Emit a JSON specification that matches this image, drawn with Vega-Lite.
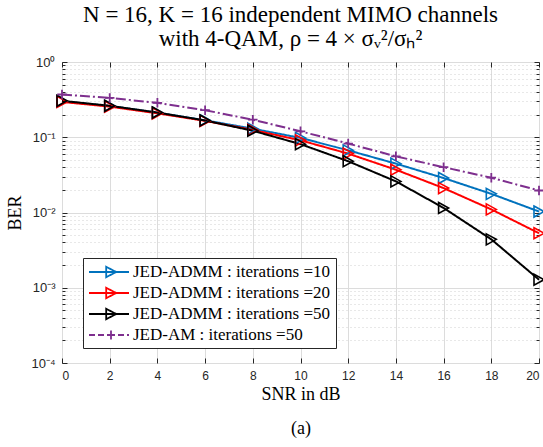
{
  "$schema": "https://vega.github.io/schema/vega-lite/v6.json",
  "autosize": {"type": "none"},
  "width": 477,
  "height": 301,
  "padding": {"left": 62, "top": 62, "right": 4, "bottom": 84},
  "background": "white",
  "config": {
    "view": {"stroke": "#262626", "strokeWidth": 1},
    "axis": {
      "labelFont": "Liberation Sans",
      "labelFontSize": 12,
      "labelColor": "#262626",
      "titleFont": "Liberation Serif",
      "titleFontWeight": "normal",
      "titleColor": "#000000",
      "tickColor": "#262626",
      "domain": false
    }
  },
  "title": {
    "text": ["N = 16, K = 16 independent MIMO channels", "with 4-QAM, ρ = 4 × σᵥ²/σₕ²"],
    "font": "Liberation Serif",
    "fontSize": 23,
    "fontWeight": "normal",
    "color": "#000000",
    "lineHeight": 24,
    "anchor": "middle",
    "dx": -10,
    "offset": 5
  },
  "data": {
    "values": [
      {"snr": 0, "ber": 0.30, "series": "JED-ADMM : iterations =10"},
      {"snr": 2, "ber": 0.26, "series": "JED-ADMM : iterations =10"},
      {"snr": 4, "ber": 0.212, "series": "JED-ADMM : iterations =10"},
      {"snr": 6, "ber": 0.168, "series": "JED-ADMM : iterations =10"},
      {"snr": 8, "ber": 0.13, "series": "JED-ADMM : iterations =10"},
      {"snr": 10, "ber": 0.098, "series": "JED-ADMM : iterations =10"},
      {"snr": 12, "ber": 0.067, "series": "JED-ADMM : iterations =10"},
      {"snr": 14, "ber": 0.0446, "series": "JED-ADMM : iterations =10"},
      {"snr": 16, "ber": 0.0287, "series": "JED-ADMM : iterations =10"},
      {"snr": 18, "ber": 0.0177, "series": "JED-ADMM : iterations =10"},
      {"snr": 20, "ber": 0.0103, "series": "JED-ADMM : iterations =10"},
      {"snr": 0, "ber": 0.295, "series": "JED-ADMM : iterations =20"},
      {"snr": 2, "ber": 0.255, "series": "JED-ADMM : iterations =20"},
      {"snr": 4, "ber": 0.208, "series": "JED-ADMM : iterations =20"},
      {"snr": 6, "ber": 0.165, "series": "JED-ADMM : iterations =20"},
      {"snr": 8, "ber": 0.125, "series": "JED-ADMM : iterations =20"},
      {"snr": 10, "ber": 0.091, "series": "JED-ADMM : iterations =20"},
      {"snr": 12, "ber": 0.0606, "series": "JED-ADMM : iterations =20"},
      {"snr": 14, "ber": 0.037, "series": "JED-ADMM : iterations =20"},
      {"snr": 16, "ber": 0.0211, "series": "JED-ADMM : iterations =20"},
      {"snr": 18, "ber": 0.011, "series": "JED-ADMM : iterations =20"},
      {"snr": 20, "ber": 0.0053, "series": "JED-ADMM : iterations =20"},
      {"snr": 0, "ber": 0.305, "series": "JED-ADMM : iterations =50"},
      {"snr": 2, "ber": 0.262, "series": "JED-ADMM : iterations =50"},
      {"snr": 4, "ber": 0.213, "series": "JED-ADMM : iterations =50"},
      {"snr": 6, "ber": 0.167, "series": "JED-ADMM : iterations =50"},
      {"snr": 8, "ber": 0.122, "series": "JED-ADMM : iterations =50"},
      {"snr": 10, "ber": 0.081, "series": "JED-ADMM : iterations =50"},
      {"snr": 12, "ber": 0.048, "series": "JED-ADMM : iterations =50"},
      {"snr": 14, "ber": 0.0259, "series": "JED-ADMM : iterations =50"},
      {"snr": 16, "ber": 0.0115, "series": "JED-ADMM : iterations =50"},
      {"snr": 18, "ber": 0.0044, "series": "JED-ADMM : iterations =50"},
      {"snr": 20, "ber": 0.00128, "series": "JED-ADMM : iterations =50"},
      {"snr": 0, "ber": 0.37, "series": "JED-AM : iterations =50"},
      {"snr": 2, "ber": 0.333, "series": "JED-AM : iterations =50"},
      {"snr": 4, "ber": 0.287, "series": "JED-AM : iterations =50"},
      {"snr": 6, "ber": 0.229, "series": "JED-AM : iterations =50"},
      {"snr": 8, "ber": 0.171, "series": "JED-AM : iterations =50"},
      {"snr": 10, "ber": 0.12, "series": "JED-AM : iterations =50"},
      {"snr": 12, "ber": 0.0824, "series": "JED-AM : iterations =50"},
      {"snr": 14, "ber": 0.0558, "series": "JED-AM : iterations =50"},
      {"snr": 16, "ber": 0.040, "series": "JED-AM : iterations =50"},
      {"snr": 18, "ber": 0.029, "series": "JED-AM : iterations =50"},
      {"snr": 20, "ber": 0.0196, "series": "JED-AM : iterations =50"}
    ]
  },
  "encoding": {
    "x": {
      "field": "snr", "type": "quantitative",
      "scale": {"domain": [0, 20], "nice": false}
    },
    "y": {
      "field": "ber", "type": "quantitative",
      "scale": {"type": "log", "domain": [0.0001, 1], "nice": false}
    },
    "color": {
      "field": "series", "type": "nominal",
      "scale": {
        "domain": ["JED-ADMM : iterations =10", "JED-ADMM : iterations =20", "JED-ADMM : iterations =50", "JED-AM : iterations =50"],
        "range": ["#0072BD", "#FF0000", "#000000", "#7E2F8E"]
      },
      "legend": {
        "title": null,
        "orient": "none",
        "legendX": 21,
        "legendY": 196,
        "direction": "vertical",
        "fillColor": "#ffffff",
        "strokeColor": "#262626",
        "padding": 5,
        "rowPadding": 3,
        "symbolSize": 256,
        "symbolStrokeWidth": 1.8,
        "symbolFillColor": "transparent",
        "labelOffset": 27,
        "labelFont": "Liberation Serif",
        "labelFontSize": 17,
        "labelColor": "#000000",
        "labelLimit": 400,
        "encode": {
          "symbols": {
            "update": {
              "shape": {"signal": "indexof(datum.value, 'JED-AM') >= 0 ? 'M-1,0H-0.25M0.125,0H0.875M1.25,0H2.25M1.75,-0.55V0.55M2.625,0H3.375M3.75,0H4' : 'M-1,0H4M1.15,-0.65L2.4,0L1.15,0.65Z'"}
            }
          }
        }
      }
    }
  },
  "layer": [
    {
      "mark": {"type": "line", "strokeWidth": 2},
      "encoding": {
        "strokeDash": {
          "field": "series", "type": "nominal",
          "scale": {
            "domain": ["JED-ADMM : iterations =10", "JED-ADMM : iterations =20", "JED-ADMM : iterations =50", "JED-AM : iterations =50"],
            "range": [[1, 0], [1, 0], [1, 0], [10, 3, 2, 3]]
          },
          "legend": null
        },
        "x": {
          "field": "snr", "type": "quantitative",
          "axis": {
            "orient": "bottom",
            "values": [0, 2, 4, 6, 8, 10, 12, 14, 16, 18, 20],
            "grid": true,
            "gridColor": "#dcdcdc",
            "tickSize": -5,
            "labelPadding": 12,
            "title": ["SNR in dB", "(a)"],
            "titleFontSize": 18,
            "titleLineHeight": 34,
            "titlePadding": 4
          }
        },
        "y": {
          "field": "ber", "type": "quantitative",
          "axis": {
            "orient": "left",
            "values": [0.0001, 0.001, 0.01, 0.1, 1],
            "grid": true,
            "gridColor": "#dcdcdc",
            "tickSize": -5,
            "labelPadding": 12,
            "labelFontSize": 13,
            "labelOverlap": false,
            "labelExpr": "datum.value == 1 ? '10⁰' : datum.value == 0.1 ? '10⁻¹' : datum.value == 0.01 ? '10⁻²' : datum.value == 0.001 ? '10⁻³' : datum.value == 0.0001 ? '10⁻⁴' : ''",
            "title": "BER",
            "titleFontSize": 18,
            "titlePadding": 6
          }
        }
      }
    },
    {
      "transform": [{"filter": "datum.series != 'JED-AM : iterations =50'"}],
      "mark": {"type": "point", "filled": false, "strokeWidth": 1.6, "opacity": 1, "size": 100, "shape": "M-1,-1.1L1,0L-1,1.1Z"},
      "encoding": {
        "x": {
          "field": "snr", "type": "quantitative",
          "axis": {
            "orient": "top",
            "values": [0, 2, 4, 6, 8, 10, 12, 14, 16, 18, 20],
            "grid": false,
            "labels": false,
            "tickSize": -5,
            "title": null
          }
        },
        "y": {
          "field": "ber", "type": "quantitative",
          "axis": {
            "orient": "left",
            "values": [0.0002, 0.0003, 0.0004, 0.0005, 0.0006, 0.0007, 0.0008, 0.0009, 0.002, 0.003, 0.004, 0.005, 0.006, 0.007, 0.008, 0.009, 0.02, 0.03, 0.04, 0.05, 0.06, 0.07, 0.08, 0.09, 0.2, 0.3, 0.4, 0.5, 0.6, 0.7, 0.8, 0.9],
            "grid": true,
            "gridColor": "#d0d0d0",
            "gridDash": [1, 3],
            "labels": false,
            "tickSize": -3,
            "title": null
          }
        }
      }
    },
    {
      "transform": [{"filter": "datum.series == 'JED-AM : iterations =50'"}],
      "mark": {"type": "point", "filled": false, "strokeWidth": 1.8, "opacity": 1, "size": 90, "shape": "M-1,0H1M0,-1V1"},
      "encoding": {
        "x": {"field": "snr", "type": "quantitative", "axis": null},
        "y": {"field": "ber", "type": "quantitative", "axis": null}
      }
    },
    {
      "mark": {"type": "point", "opacity": 0},
      "encoding": {
        "x": {"field": "snr", "type": "quantitative", "axis": null},
        "y": {
          "field": "ber", "type": "quantitative",
          "axis": {
            "orient": "right",
            "values": [0.0001, 0.001, 0.01, 0.1, 1],
            "grid": false,
            "labels": false,
            "tickSize": -5,
            "title": null
          }
        }
      }
    },
    {
      "mark": {"type": "point", "opacity": 0},
      "encoding": {
        "x": {"field": "snr", "type": "quantitative", "axis": null},
        "y": {
          "field": "ber", "type": "quantitative",
          "axis": {
            "orient": "right",
            "values": [0.0002, 0.0003, 0.0004, 0.0005, 0.0006, 0.0007, 0.0008, 0.0009, 0.002, 0.003, 0.004, 0.005, 0.006, 0.007, 0.008, 0.009, 0.02, 0.03, 0.04, 0.05, 0.06, 0.07, 0.08, 0.09, 0.2, 0.3, 0.4, 0.5, 0.6, 0.7, 0.8, 0.9],
            "grid": false,
            "labels": false,
            "tickSize": -3,
            "title": null
          }
        }
      }
    }
  ],
  "resolve": {"axis": {"x": "independent", "y": "independent"}}
}
